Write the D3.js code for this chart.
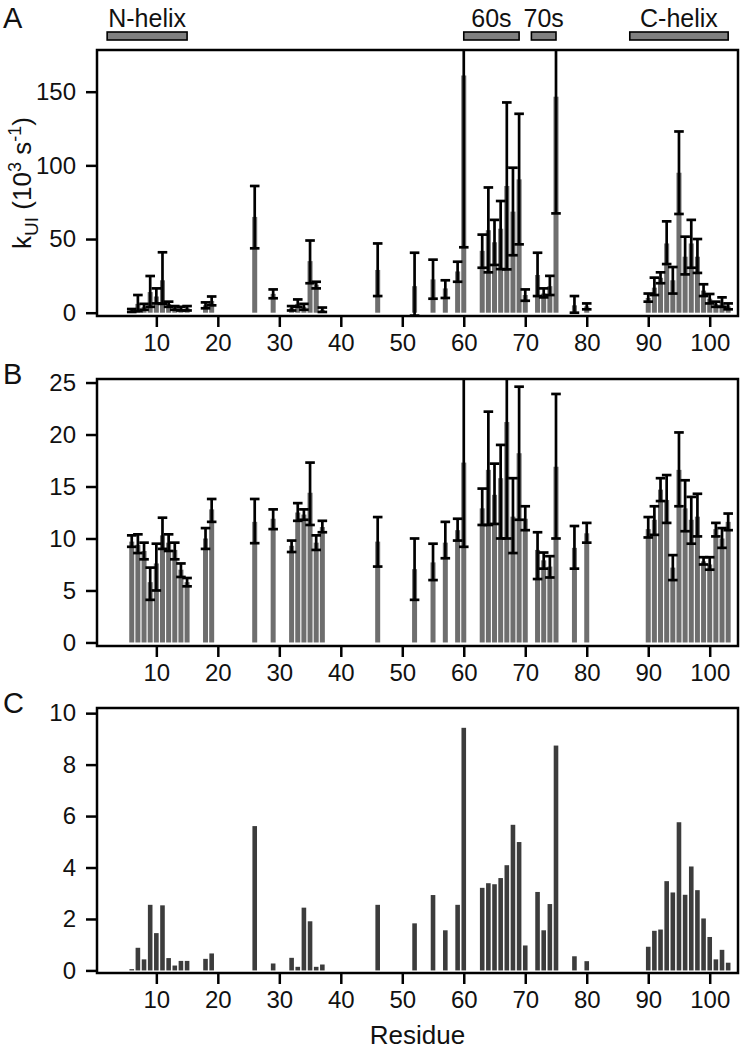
<!DOCTYPE html>
<html><head><meta charset="utf-8">
<script src="https://d3js.org/d3.v7.min.js"></script>
<style>body{margin:0;background:#fff}svg{display:block}text{font-family:"Liberation Sans",Arial,sans-serif}</style>
</head><body><svg id="c" width="741" height="1050"></svg>
<script>
// ---- data ----
const residues = [6,7,8,9,10,11,12,13,14,15,18,19,26,29,32,33,34,35,36,37,46,52,55,57,59,60,63,64,65,66,67,68,69,70,72,73,74,75,78,80,90,91,92,93,94,95,96,97,98,99,100,101,102,103];
// Panel A: kUI (10^3 s^-1) mean, lower, upper
const kuiMean = [1.5,6,4,14,11,22,6,3,2.8,3,5,8,65,12.8,3,6,4,35,19,2,29,18,22.6,16.5,28,161,42,56,47.8,57,86,68.6,90.5,12,25.6,13,18,146.6,5,4.3,10,17,23.7,47,22,95,38,47,38,15,9.5,6,7,4.3];
const kuiLow  = [0.5,1,2,4,6.3,6,4,2,1.5,1.5,3,5,43.7,9.8,1.5,4,2,20,16.5,0.5,11.3,-2,9.5,10,21,44.4,30.5,27.4,32.4,29.6,29.4,39,46.4,8.1,11.3,10.4,12,67.4,0,2.3,7.5,12,20,33,13,67,26,30.5,27,11.3,6.3,4,4,2.3];
const kuiHigh = [2.5,12,6,24.9,16.5,41,7.5,4.5,4,4.5,7,11,86,15.8,4.5,9,6,49,21,3.5,47,40.7,36,22,34.6,280,53,85,63,75.8,142.7,98.4,135,15.8,40.7,16.5,25,280,11.3,6.3,13,23.8,27.4,62,31,123,51.6,63,50,19.3,12.7,7.5,10.4,6.3];
// Panel B
const bMean = [9.7,9.4,8.8,5.8,7.6,10.3,9.6,8.9,7.0,5.8,10.0,12.8,11.6,11.9,9.3,12.5,12.3,14.4,9.6,11.1,9.7,7.05,7.7,9.6,10.8,17.3,12.9,16.6,14.2,15.8,21.2,12.1,18.2,11.9,8.9,7.9,7.3,16.9,9.1,10.5,10.9,11.8,14.7,13.7,7.2,16.6,12.9,11.8,12.1,7.8,7.5,10.9,10.0,11.6];
const bLow  = [9.2,8.6,8.0,4.1,5.0,9.0,8.8,8.0,6.3,5.4,9.0,11.6,9.55,10.9,8.7,11.7,11.8,11.3,8.9,10.6,7.3,4.1,6.0,8.1,9.8,9.2,11.3,11.3,11.4,10.0,10.0,8.6,11.8,10.8,6.1,7.1,6.25,10.0,7.1,9.6,10.1,10.35,13.6,11.5,6.0,13.1,10.7,9.5,10.2,7.5,7.0,10.2,9.1,10.8];
const bHigh = [10.3,10.4,9.6,7.2,9.5,12.0,10.4,9.6,7.6,6.2,11.0,13.8,13.8,12.8,9.8,13.4,12.8,17.3,10.3,11.7,12.06,10.0,9.5,11.6,11.9,30,14.8,22.2,17.2,19.0,30,15.8,24.6,13.1,10.6,8.65,8.3,23.9,11.2,11.5,12.06,13.1,15.8,16.1,8.4,20.2,15.6,14.0,14.3,8.2,8.2,11.5,11.0,12.4];
// Panel C
const cValues = [0.05,0.88,0.43,2.55,1.45,2.53,0.48,0.19,0.37,0.37,0.45,0.66,5.61,0.27,0.49,0.14,2.44,1.91,0.14,0.23,2.55,1.83,2.93,1.56,2.55,9.43,3.21,3.39,3.35,3.59,4.09,5.66,4.99,0.97,3.05,1.56,2.58,8.74,0.55,0.36,0.92,1.54,1.59,3.47,3.03,5.76,2.94,4.04,3.12,2.02,1.30,0.43,0.80,0.30];
const xTicks = [10,20,30,40,50,60,70,80,90,100];
const aTicks = [0,50,100,150];
const bTicks = [0,5,10,15,20,25];
const cTicks = [0,2,4,6,8,10];
const regionNames = ["N-helix","60s","70s","C-helix"];
const regionStart = [2,60,71,87];
const regionEnd = [15,69,75,103];

// ---- drawing ----
const svg = d3.select("#c");
const x = d3.scaleLinear().domain([0.35,104.6]).range([97,738]);
const FONT = 24;

const panels = [
  {key:"A", top:50, bottom:316, domain:[-2.24,178.3], ticks:aTicks, mean:kuiMean, lo:kuiLow, hi:kuiHigh},
  {key:"B", top:379, bottom:646, domain:[-0.34,25.34], ticks:bTicks, mean:bMean, lo:bLow, hi:bHigh},
  {key:"C", top:708, bottom:973, domain:[-0.1,10.2], ticks:cTicks, mean:cValues}
];

panels.forEach((p,pi)=>{
  const y = d3.scaleLinear().domain(p.domain).range([p.bottom,p.top]);
  const g = svg.append("g");
  const clipId = "clip"+pi;
  svg.append("clipPath").attr("id",clipId).append("rect")
    .attr("x",x.range()[0]).attr("y",p.top).attr("width",x.range()[1]-x.range()[0]).attr("height",p.bottom-p.top);
  const plot = g.append("g").attr("clip-path",`url(#${clipId})`);
  const isC = p.key==="C";
  const bw = isC ? 4.6 : 5;
  plot.selectAll("rect.bar").data(residues).join("rect")
    .attr("x",d=>x(d)-bw/2).attr("width",bw)
    .attr("y",(d,i)=>y(Math.max(0,p.mean[i])))
    .attr("height",(d,i)=>Math.abs(y(0)-y(p.mean[i])))
    .attr("fill", isC ? "#3c3c3c" : "#6e6e6e");
  if(p.lo){
    const eb = plot.selectAll("g.eb").data(residues).join("g");
    const cw = 4.8, sw = 2.7;
    eb.append("line").attr("x1",d=>x(d)).attr("x2",d=>x(d))
      .attr("y1",(d,i)=>y(p.lo[i])).attr("y2",(d,i)=>y(p.hi[i]))
      .attr("stroke","#000").attr("stroke-width",sw);
    eb.append("line").attr("x1",d=>x(d)-cw).attr("x2",d=>x(d)+cw)
      .attr("y1",(d,i)=>y(p.lo[i])).attr("y2",(d,i)=>y(p.lo[i]))
      .attr("stroke","#000").attr("stroke-width",sw);
    eb.append("line").attr("x1",d=>x(d)-cw).attr("x2",d=>x(d)+cw)
      .attr("y1",(d,i)=>y(p.hi[i])).attr("y2",(d,i)=>y(p.hi[i]))
      .attr("stroke","#000").attr("stroke-width",sw);
  }
  // frame
  g.append("rect").attr("x",x.range()[0]).attr("y",p.top)
    .attr("width",x.range()[1]-x.range()[0]).attr("height",p.bottom-p.top)
    .attr("fill","none").attr("stroke","#000").attr("stroke-width",2.5);
  // axes
  const ya = g.append("g").attr("transform",`translate(${x.range()[0]},0)`)
    .call(d3.axisLeft(y).tickValues(p.ticks).tickSize(11).tickPadding(10));
  const xa = g.append("g").attr("transform",`translate(0,${p.bottom})`)
    .call(d3.axisBottom(x).tickValues(xTicks).tickSize(11).tickPadding(7));
  [ya,xa].forEach(a=>{
    a.select(".domain").remove();
    a.selectAll(".tick line").attr("stroke","#000").attr("stroke-width",2.5);
    a.selectAll(".tick text").attr("font-size",FONT).attr("fill","#111")
      .attr("font-family","Liberation Sans, Arial, sans-serif");
  });
  svg.append("text").attr("x",3).attr("y",p.key==="A"?20:p.top-3).attr("font-size",29).attr("fill","#111")
    .attr("dominant-baseline","middle").text(p.key);
});

// y title for A
const yt = svg.append("text").attr("transform","translate(31,183) rotate(-90)")
  .attr("text-anchor","middle").attr("font-size",26).attr("fill","#111");
yt.append("tspan").text("k");
yt.append("tspan").attr("font-size",19).attr("dy",7).text("UI");
yt.append("tspan").attr("dy",-7).text(" (10");
yt.append("tspan").attr("font-size",18).attr("dy",-10).text("3");
yt.append("tspan").attr("dy",10).text(" s");
yt.append("tspan").attr("font-size",18).attr("dy",-10).text("-1");
yt.append("tspan").attr("dy",10).text(")");

// region bars
const rg = svg.append("g");
regionNames.forEach((n,i)=>{
  const x0 = x(regionStart[i]), x1 = x(regionEnd[i]);
  rg.append("rect").attr("x",x0).attr("y",32).attr("width",x1-x0).attr("height",8)
    .attr("fill","#808080").attr("stroke","#000").attr("stroke-width",1.6);
  rg.append("text").attr("x",(x0+x1)/2).attr("y",27).attr("text-anchor","middle")
    .attr("font-size",25).attr("fill","#111").text(n);
});

svg.append("text").attr("x",(97+738)/2).attr("y",1044).attr("text-anchor","middle")
  .attr("font-size",26).attr("fill","#111").text("Residue");
</script></body></html>
